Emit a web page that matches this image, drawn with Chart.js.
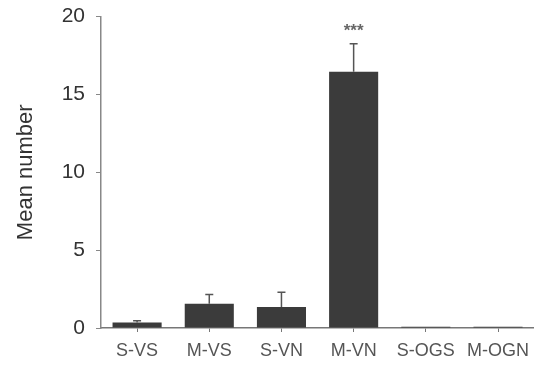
<!DOCTYPE html>
<html>
<head>
<meta charset="utf-8">
<script src="https://cdn.jsdelivr.net/npm/chart.js@4/dist/chart.umd.min.js"></script>
<style>
  body { margin: 0; background: #fff; overflow: hidden; }
  #wrap { width: 537px; height: 373px; margin-top: -7px; }
</style>
</head>
<body>
<div id="wrap"><canvas id="meanChart"></canvas></div>
<script>
const groups = ['S-VS', 'M-VS', 'S-VN', 'M-VN', 'S-OGS', 'M-OGN'];
const meanValues = [0.35, 1.55, 1.35, 16.45, 0.08, 0.08];
const errValues = [0.12, 0.6, 0.95, 1.8, 0, 0];
const marks = ['', '', '', '***', '', ''];
const yTicks = [0, 5, 10, 15, 20];

// upward-only error bars and significance stars
const errorBars = {
    id: 'errorBars',
    afterDatasetsDraw(chart) {
        const ctx = chart.ctx;
        const meta = chart.getDatasetMeta(0);
        const y = chart.scales.y;
        ctx.save();
        ctx.strokeStyle = '#555';
        ctx.lineWidth = 1.5;
        meta.data.forEach((bar, i) => {
            let top = y.getPixelForValue(meanValues[i] + errValues[i]);
            if (errValues[i] > 0) {
                ctx.beginPath();
                ctx.moveTo(bar.x, bar.y);
                ctx.lineTo(bar.x, top);
                ctx.moveTo(bar.x - 4, top);
                ctx.lineTo(bar.x + 4, top);
                ctx.stroke();
            }
            if (marks[i]) {
                ctx.fillStyle = '#666';
                ctx.font = 'bold 17px Arial, "Liberation Sans"';
                ctx.textAlign = 'center';
                ctx.fillText(marks[i], bar.x, top - 8);
            }
        });
        ctx.restore();
    }
};

const ctx = document.getElementById('meanChart').getContext('2d');
const myChart = new Chart(ctx, {
    type: 'bar',
    data: {
        labels: groups,
        datasets: [{
            data: meanValues,
            backgroundColor: '#3b3b3b',
            barPercentage: 0.68,
            categoryPercentage: 1.0
        }]
    },
    options: {
        responsive: true,
        maintainAspectRatio: false,
        animation: false,
        layout: { padding: { top: 6, right: 0, left: 0, bottom: 0 } },
        plugins: {
            legend: { display: false },
            tooltip: { enabled: false }
        },
        scales: {
            x: {
                grid: { drawOnChartArea: false, drawTicks: true, tickLength: 4, offset: false, color: '#777' },
                border: { color: '#777', width: 1.5 },
                ticks: {
                    color: '#555',
                    font: { family: 'Arial, "Liberation Sans"', size: 18 },
                    padding: 8,
                    maxRotation: 0,
                    autoSkip: false
                },
                afterFit: (scale) => { scale.height = 38; }
            },
            y: {
                min: 0,
                max: 20,
                afterBuildTicks: (scale) => { scale.ticks = yTicks.map(v => ({ value: v })); },
                grid: { drawOnChartArea: false, drawTicks: true, tickLength: 5, color: '#888' },
                border: { color: '#888', width: 1.5 },
                ticks: {
                    color: '#333',
                    font: { family: 'Arial, "Liberation Sans"', size: 21 },
                    padding: 11
                },
                title: {
                    display: true,
                    text: 'Mean number',
                    color: '#333',
                    font: { family: 'Arial, "Liberation Sans"', size: 22 },
                    padding: { top: 13, bottom: 10 }
                },
                afterFit: (scale) => { scale.width = 101; }
            }
        }
    },
    plugins: [errorBars]
});
</script>
</body>
</html>
